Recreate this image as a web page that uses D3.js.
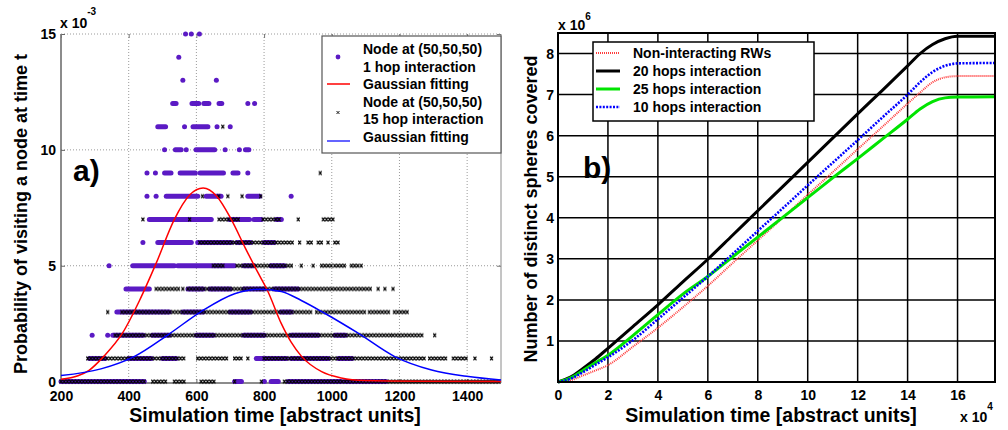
<!DOCTYPE html>
<html>
<head>
<meta charset="utf-8">
<script src="https://cdn.jsdelivr.net/npm/d3@7.9.0/dist/d3.min.js"></script>
<style>
  body { margin: 0; background: #fff; }
  text { font-family: "Liberation Sans", Arial, sans-serif; font-weight: bold; }
</style>
</head>
<body>
<svg id="chart" width="1008" height="430"></svg>
<script>
// ---------- panel a data: [level (x 1e-3), time start, time end] ----------
const purpleRuns = [
  [15, 568], [15, 585], [15, 609],
  [14, 548],
  [13, 560], [13, 659],
  [12, 530, 540], [12, 587, 607], [12, 622, 637], [12, 667, 675], [12, 752], [12, 772],
  [11, 486, 509], [11, 565], [11, 590, 634], [11, 661], [11, 700],
  [10, 506], [10, 538, 555], [10, 570], [10, 599, 654], [10, 685], [10, 727], [10, 745, 755],
  [9, 454], [9, 479], [9, 506, 525], [9, 552, 597], [9, 611, 680], [9, 708, 723], [9, 752],
  [8, 454], [8, 481], [8, 511, 604], [8, 629, 673], [8, 752, 787], [8, 880],
  [7, 461, 644], [7, 698, 757], [7, 770, 792], [7, 836, 851],
  [6, 442], [6, 486, 585], [6, 604, 703], [6, 720, 760], [6, 800, 830],
  [5, 342], [5, 412, 535], [5, 545, 712], [5, 740, 770], [5, 820, 860],
  [4, 392, 461], [4, 575, 620], [4, 640, 700], [4, 740, 800], [4, 830, 900],
  [3, 365, 520], [3, 560, 620], [3, 700, 760], [3, 850, 880],
  [2, 292], [2, 338], [2, 353, 443], [2, 470, 520], [2, 600, 650], [2, 740, 800], [2, 880, 960], [2, 1010, 1040],
  [1, 284, 330], [1, 400, 467], [1, 500, 540], [1, 777, 866], [1, 880, 990], [1, 1020, 1060],
  [0, 200, 446], [0, 713, 733], [0, 801], [0, 821, 842], [0, 871, 1028], [0, 1040, 1160]
];
const blackRuns = [
  [11, 678],
  [9, 966],
  [8, 618], [8, 666], [8, 693], [8, 735], [8, 790],
  [7, 442], [7, 580], [7, 667, 724], [7, 797, 841], [7, 901], [7, 975, 1004],
  [6, 610, 700], [6, 713, 881], [6, 905], [6, 930, 940], [6, 960, 974], [6, 989], [6, 1009, 1019],
  [5, 650, 680], [5, 720, 885], [5, 910], [5, 945], [5, 970, 994], [5, 1009, 1039], [5, 1058, 1078], [5, 1087],
  [4, 481, 549], [4, 560], [4, 575, 1117], [4, 1137], [4, 1157], [4, 1181],
  [3, 338], [3, 380, 940], [3, 955, 1093], [3, 1111, 1166], [3, 1185, 1221],
  [2, 360, 1176], [2, 1181, 1270], [2, 1304],
  [1, 279, 560], [1, 604, 693], [1, 713, 733], [1, 752], [1, 800, 1270], [1, 1289, 1334], [1, 1359, 1393], [1, 1423], [1, 1472],
  [0, 200, 446], [0, 471, 506], [0, 535, 565], [0, 614, 653], [0, 713], [0, 792], [0, 860, 1493]
];
// gaussian fits
const redFitX = [200, 250, 284, 327, 382, 432, 481, 535, 580, 620, 660, 703, 745, 782, 811, 851, 880, 910, 970, 1028, 1097, 1250, 1500];
const redFitY = [0.1, 0.25, 0.5, 1.1, 2.1, 3.5, 5.1, 7.0, 8.05, 8.35, 8.0, 7.0, 5.75, 4.7, 3.9, 2.5, 1.7, 1.1, 0.43, 0.16, 0.05, 0.02, 0.01];
const blueFitX = [200, 318, 416, 516, 614, 713, 786, 851, 910, 979, 1078, 1186, 1295, 1404, 1500];
const blueFitY = [0.26, 0.55, 1.08, 2.02, 3.02, 3.79, 3.99, 3.89, 3.5, 2.95, 2.09, 1.08, 0.5, 0.22, 0.07];

const xTicksA = [200, 400, 600, 800, 1000, 1200, 1400];
const yTicksA = [0, 5, 10, 15];
const legendA = ['Node at (50,50,50)', '1 hop interaction', 'Gaussian fitting',
  'Node at (50,50,50)', '15 hop interaction', 'Gaussian fitting'];

// ---------- panel b data: time (x 1e4) vs spheres (x 1e6) ----------
const timeB = [0, 0.5, 1, 1.5, 2, 3, 4, 5, 6, 7, 8, 9, 10, 11, 12, 13, 14, 14.5, 15, 15.5, 16, 17.5];
const nonInteracting = [0, 0.04, 0.16, 0.28, 0.41, 0.86, 1.32, 1.82, 2.34, 2.9, 3.45, 4.0, 4.56, 5.11, 5.67, 6.22, 6.78, 7.05, 7.3, 7.42, 7.45, 7.45];
const hops20 = [0, 0.12, 0.33, 0.56, 0.82, 1.35, 1.88, 2.44, 2.99, 3.58, 4.17, 4.76, 5.35, 5.94, 6.53, 7.11, 7.7, 8.0, 8.22, 8.36, 8.42, 8.42];
const hops25 = [0, 0.1, 0.28, 0.47, 0.65, 1.13, 1.64, 2.14, 2.57, 3.05, 3.53, 4.01, 4.49, 4.97, 5.44, 5.92, 6.4, 6.65, 6.83, 6.92, 6.94, 6.95];
const hops10 = [0, 0.08, 0.24, 0.42, 0.6, 1.02, 1.53, 2.05, 2.57, 3.12, 3.68, 4.23, 4.79, 5.34, 5.89, 6.45, 7.0, 7.3, 7.55, 7.7, 7.76, 7.77];

const xTicksB = [0, 2, 4, 6, 8, 10, 12, 14, 16];
const yTicksB = [1, 2, 3, 4, 5, 6, 7, 8];
const seriesB = [
  { name: 'Non-interacting RWs', values: nonInteracting, color: '#ff3b3b', width: 2, dash: '1,1' },
  { name: '20 hops interaction', values: hops20, color: '#000', width: 3, dash: null },
  { name: '25 hops interaction', values: hops25, color: '#00e400', width: 3, dash: null },
  { name: '10 hops interaction', values: hops10, color: '#0000ff', width: 2.6, dash: '2,1.4' }
];

const svg = d3.select('#chart');
const defs = svg.append('defs');
const xpat = defs.append('pattern').attr('id', 'xmark')
  .attr('patternUnits', 'userSpaceOnUse').attr('width', 3.2).attr('height', 5);
xpat.append('path').attr('d', 'M0.1,0.6 L3.1,4.4 M3.1,0.6 L0.1,4.4')
  .attr('stroke', '#000').attr('stroke-width', 1.25).attr('fill', 'none');

function styleAxis(g, size) {
  g.attr('font-size', size).attr('font-family', '"Liberation Sans", Arial, sans-serif')
    .attr('font-weight', 'bold');
  g.select('.domain').remove();
  g.selectAll('text').attr('fill', '#000');
}

// ================= panel a =================
const xa = d3.scaleLinear().domain([200, 1500]).range([61, 501]);
const ya = d3.scaleLinear().domain([-0.06, 15]).range([383, 34]);
const ga = svg.append('g');

// dotted grid
ga.selectAll('.vg').data(xTicksA.slice(1)).join('line')
  .attr('x1', d => xa(d)).attr('x2', d => xa(d)).attr('y1', 383).attr('y2', 34)
  .attr('stroke', '#9a9a9a').attr('stroke-dasharray', '1,2');
ga.selectAll('.hg').data(yTicksA.slice(1)).join('line')
  .attr('x1', 61).attr('x2', 501).attr('y1', d => ya(d)).attr('y2', d => ya(d))
  .attr('stroke', '#9a9a9a').attr('stroke-dasharray', '1,2');

// frame
ga.append('line').attr('x1', 501).attr('x2', 501).attr('y1', 34).attr('y2', 383).attr('stroke', '#8a8a8a');
ga.append('line').attr('x1', 61).attr('x2', 61).attr('y1', 34).attr('y2', 383).attr('stroke', '#666').attr('stroke-width', 1.5);
ga.append('line').attr('x1', 61).attr('x2', 501).attr('y1', 383).attr('y2', 383).attr('stroke', '#666').attr('stroke-width', 1.5);

// axes, ticks pointing inward
ga.append('g').attr('transform', 'translate(0,383)')
  .call(d3.axisBottom(xa).tickValues(xTicksA).tickFormat(d3.format('d'))
    .tickSizeInner(-4).tickSizeOuter(0).tickPadding(8))
  .call(g => styleAxis(g, 14)).selectAll('line').attr('stroke', '#666');
ga.append('g').attr('transform', 'translate(61,0)')
  .call(d3.axisLeft(ya).tickValues(yTicksA).tickSizeInner(-4).tickSizeOuter(0).tickPadding(5))
  .call(g => styleAxis(g, 14)).selectAll('line').attr('stroke', '#666');
ga.append('g').attr('transform', 'translate(0,34)')
  .call(d3.axisTop(xa).tickValues(xTicksA).tickSizeInner(-4).tickSizeOuter(0).tickFormat(''))
  .call(g => styleAxis(g, 14)).selectAll('line').attr('stroke', '#777');
ga.append('g').attr('transform', 'translate(501,0)')
  .call(d3.axisRight(ya).tickValues(yTicksA).tickSizeInner(-4).tickSizeOuter(0).tickFormat(''))
  .call(g => styleAxis(g, 14)).selectAll('line').attr('stroke', '#777');

// purple dots (runs of overlapping markers)
const r = 2.5;
ga.append('g').selectAll('rect').data(purpleRuns).join('rect')
  .attr('x', d => xa(d[1]) - r)
  .attr('y', d => ya(d[0]) - r)
  .attr('width', d => xa(d[2] ?? d[1]) - xa(d[1]) + 2 * r)
  .attr('height', 2 * r).attr('rx', r)
  .attr('fill', '#5b1ac4');

// black x markers
ga.append('g').selectAll('g').data(blackRuns).join('g')
  .attr('transform', d => `translate(${xa(d[1]) - 1.6},${ya(d[0]) - 2.5})`)
  .append('rect')
  .attr('width', d => Math.round((xa(d[2] ?? d[1]) - xa(d[1])) / 3.2) * 3.2 + 3.2)
  .attr('height', 5).attr('fill', 'url(#xmark)');

const lineA = d3.line().x(d => xa(d[0])).y(d => ya(d[1])).curve(d3.curveMonotoneX);
ga.append('path').attr('d', lineA(d3.zip(redFitX, redFitY)))
  .attr('fill', 'none').attr('stroke', '#ff0000').attr('stroke-width', 1.5);
ga.append('path').attr('d', lineA(d3.zip(blueFitX, blueFitY)))
  .attr('fill', 'none').attr('stroke', '#0000ff').attr('stroke-width', 1.5);

// legend a
const la = ga.append('g');
la.append('rect').attr('x', 322).attr('y', 36).attr('width', 179).attr('height', 117)
  .attr('fill', '#fff').attr('stroke', '#555').attr('stroke-width', 1.2);
la.selectAll('text').data(legendA).join('text')
  .attr('x', 363).attr('y', (d, i) => 54 + i * 17.6)
  .attr('font-size', 14).text(d => d);
la.append('circle').attr('cx', 338).attr('cy', 57).attr('r', 2.4).attr('fill', '#5b1ac4');
la.append('line').attr('x1', 327).attr('x2', 350).attr('y1', 84).attr('y2', 84).attr('stroke', '#ff0000').attr('stroke-width', 1.5);
la.append('path').attr('d', 'M336.5,111 L339.5,114 M339.5,111 L336.5,114').attr('stroke', '#000').attr('stroke-width', 0.9);
la.append('line').attr('x1', 327).attr('x2', 350).attr('y1', 141).attr('y2', 141).attr('stroke', '#3030ff').attr('stroke-width', 1.5);

// labels a
ga.append('text').attr('x', 73).attr('y', 181).attr('font-size', 30).text('a)');
ga.append('text').attr('x', 275).attr('y', 422).attr('text-anchor', 'middle').attr('font-size', 19.5)
  .text('Simulation time [abstract units]');
ga.append('text').attr('transform', 'translate(27,214) rotate(-90)').attr('text-anchor', 'middle')
  .attr('font-size', 18).text('Probability of visiting a node at time t');
const ea = ga.append('text').attr('x', 60).attr('y', 28).attr('font-size', 14);
ea.append('tspan').text('x 10');
ea.append('tspan').attr('dy', -13).attr('font-size', 10).text('-3');

// ================= panel b =================
const xb = d3.scaleLinear().domain([0, 17.5]).range([558, 995]);
const yb = d3.scaleLinear().domain([0, 8.5]).range([382, 33]);
const gb = svg.append('g');

gb.selectAll('.vg').data(xTicksB.slice(1)).join('line')
  .attr('x1', d => xb(d)).attr('x2', d => xb(d)).attr('y1', 382).attr('y2', 33)
  .attr('stroke', '#000').attr('stroke-width', 1.5);
gb.selectAll('.hg').data(yTicksB).join('line')
  .attr('x1', 558).attr('x2', 995).attr('y1', d => yb(d)).attr('y2', d => yb(d))
  .attr('stroke', '#000').attr('stroke-width', 1.5);

gb.append('g').attr('transform', 'translate(0,382)')
  .call(d3.axisBottom(xb).tickValues(xTicksB).tickSizeInner(0).tickSizeOuter(0).tickPadding(8))
  .call(g => styleAxis(g, 14));
gb.append('g').attr('transform', 'translate(558,0)')
  .call(d3.axisLeft(yb).tickValues(yTicksB).tickSizeInner(0).tickSizeOuter(0).tickPadding(4))
  .call(g => styleAxis(g, 14));

const lineB = d3.line().x(d => xb(d[0])).y(d => yb(d[1])).curve(d3.curveMonotoneX);
seriesB.forEach(s => {
  gb.append('path').attr('d', lineB(d3.zip(timeB, s.values)))
    .attr('fill', 'none').attr('stroke', s.color).attr('stroke-width', s.width)
    .attr('stroke-dasharray', s.dash);
});

gb.append('rect').attr('x', 558).attr('y', 33).attr('width', 437).attr('height', 349)
  .attr('fill', 'none').attr('stroke', '#000').attr('stroke-width', 2);

// legend b
const lb = gb.append('g');
lb.append('rect').attr('x', 593).attr('y', 42).attr('width', 221).attr('height', 79)
  .attr('fill', '#fff').attr('stroke', '#000').attr('stroke-width', 1.5);
seriesB.forEach((s, i) => {
  const yy = 53 + i * 18;
  lb.append('line').attr('x1', 596).attr('x2', 620).attr('y1', yy).attr('y2', yy)
    .attr('stroke', s.color).attr('stroke-width', s.width).attr('stroke-dasharray', s.dash);
  lb.append('text').attr('x', 633).attr('y', yy + 5).attr('font-size', 14).text(s.name);
});

gb.append('text').attr('x', 583).attr('y', 178).attr('font-size', 30).text('b)');
gb.append('text').attr('x', 771).attr('y', 422).attr('text-anchor', 'middle').attr('font-size', 19.5)
  .text('Simulation time [abstract units]');
gb.append('text').attr('transform', 'translate(537,209) rotate(-90)').attr('text-anchor', 'middle')
  .attr('font-size', 18).text('Number of distinct spheres covered');
const eb = gb.append('text').attr('x', 558).attr('y', 30).attr('font-size', 14);
eb.append('tspan').text('x 10');
eb.append('tspan').attr('dy', -10).attr('font-size', 10).text('6');
const ex = gb.append('text').attr('x', 960).attr('y', 422).attr('font-size', 14);
ex.append('tspan').text('x 10');
ex.append('tspan').attr('dy', -12).attr('font-size', 10).text('4');
</script>
</body>
</html>
